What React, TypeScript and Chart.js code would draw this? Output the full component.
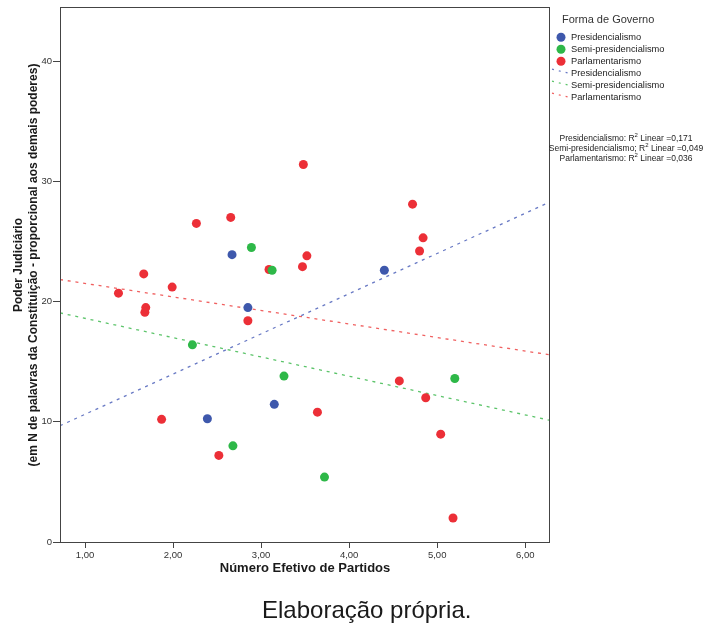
import { useEffect, useRef } from "react";
import { Chart, registerables } from "chart.js";
Chart.register(...registerables);

const xTicks = [1, 2, 3, 4, 5, 6];
const yTicks = [0, 10, 20, 30, 40];
const xRange = [0.716, 6.27];
const yRange = [0, 44.5];

const seriesNames = ["Presidencialismo", "Semi-presidencialismo", "Parlamentarismo"];
const r2Values = ["0,171", "0,049", "0,036"];

const presX = [2.67, 2.85, 4.4, 3.15, 2.39];
const presY = [23.9, 19.5, 22.6, 11.45, 10.25];

const semiX = [2.89, 3.125, 2.22, 3.26, 5.2, 2.68, 3.72];
const semiY = [24.5, 22.6, 16.4, 13.8, 13.6, 8.0, 5.4];

const parlX = [3.48, 2.265, 2.655, 3.52, 3.09, 3.47, 1.667, 1.99, 1.38, 1.69, 1.68, 2.85, 4.72, 4.84, 4.8, 4.57, 4.87, 3.64, 1.87, 5.04, 2.52, 5.18];
const parlY = [31.4, 26.5, 27.0, 23.8, 22.67, 22.9, 22.3, 21.2, 20.7, 19.5, 19.1, 18.4, 28.1, 25.3, 24.2, 13.4, 12.0, 10.8, 10.2, 8.97, 7.2, 2.0];

// fit line values at the left and right edges of the x range
const presFit = [9.67, 28.25];
const semiFit = [19.06, 10.14];
const parlFit = [21.83, 15.58];

const pointColors = ["#3e58ac", "#2eb848", "#ec2f37"];
const lineColors = ["#6879c4", "#5cc46a", "#f06060"];

const FONT = "'Liberation Sans', Arial, sans-serif";

const pts = (xs: number[], ys: number[]) => xs.map((x, i) => ({ x, y: ys[i] }));
const fit = (v: number[]) => [{ x: xRange[0], y: v[0] }, { x: xRange[1], y: v[1] }];

const decor = {
  id: "decor",
  afterDraw(chart: any) {
    const ctx = chart.ctx as CanvasRenderingContext2D;
    const a = chart.chartArea;
    ctx.save();
    // frame
    ctx.strokeStyle = "#444";
    ctx.lineWidth = 1;
    ctx.setLineDash([]);
    ctx.strokeRect(Math.round(a.left) + 0.5, Math.round(a.top) + 0.5, Math.round(a.right - a.left), Math.round(a.bottom - a.top));

    // legend
    ctx.fillStyle = "#333";
    ctx.textBaseline = "middle";
    ctx.textAlign = "left";
    ctx.font = `11px ${FONT}`;
    ctx.fillText("Forma de Governo", 562, 20);
    ctx.font = `9.3px ${FONT}`;
    const rowY = [37.3, 49.3, 61.3, 72.7, 84.7, 96.7];
    for (let i = 0; i < 3; i++) {
      ctx.fillStyle = pointColors[i];
      ctx.beginPath();
      ctx.arc(561, rowY[i], 4.5, 0, Math.PI * 2);
      ctx.fill();
      ctx.fillStyle = "#222";
      ctx.fillText(seriesNames[i], 571, rowY[i] + 0.5);
    }
    for (let i = 0; i < 3; i++) {
      const y = rowY[i + 3];
      ctx.strokeStyle = lineColors[i];
      ctx.lineWidth = 1.2;
      ctx.setLineDash([2, 5]);
      ctx.beginPath();
      ctx.moveTo(552, y - 3.5);
      ctx.lineTo(570, y + 0.8);
      ctx.stroke();
      ctx.setLineDash([]);
      ctx.fillStyle = "#222";
      ctx.fillText(seriesNames[i], 571, y + 0.5);
    }

    // R2 annotations
    const r2Y = [138.5, 148.5, 158.5];
    for (let i = 0; i < 3; i++) {
      const pre = `${seriesNames[i]}${i === 1 ? ";" : ":"} R`;
      const post = ` Linear =${r2Values[i]}`;
      ctx.font = `8.5px ${FONT}`;
      const w1 = ctx.measureText(pre).width;
      const w3 = ctx.measureText(post).width;
      ctx.font = `6px ${FONT}`;
      const w2 = ctx.measureText("2").width;
      const total = w1 + w2 + w3;
      let x = 626 - total / 2;
      ctx.fillStyle = "#222";
      ctx.font = `8.5px ${FONT}`;
      ctx.fillText(pre, x, r2Y[i]);
      x += w1;
      ctx.font = `6px ${FONT}`;
      ctx.fillText("2", x, r2Y[i] - 3.2);
      x += w2;
      ctx.font = `8.5px ${FONT}`;
      ctx.fillText(post, x, r2Y[i]);
    }

    // axis titles
    ctx.fillStyle = "#1a1a1a";
    ctx.textAlign = "center";
    ctx.textBaseline = "alphabetic";
    ctx.font = `bold 13px ${FONT}`;
    ctx.fillText("Número Efetivo de Partidos", 305, 572);

    ctx.save();
    ctx.translate(0, 265);
    ctx.rotate(-Math.PI / 2);
    ctx.font = `bold 12px ${FONT}`;
    ctx.textBaseline = "middle";
    ctx.fillText("Poder Judiciário", 0, 18.8);
    ctx.fillText("(em N de palavras da Constituição - proporcional aos demais poderes)", 0, 33.4);
    ctx.restore();

    // caption
    ctx.textAlign = "left";
    ctx.textBaseline = "alphabetic";
    ctx.fillStyle = "#1a1a1a";
    ctx.font = `24px ${FONT}`;
    ctx.fillText("Elaboração própria.", 262, 618);
    ctx.restore();
  },
};

export default function App() {
  const ref = useRef<HTMLCanvasElement>(null);
  useEffect(() => {
    if (!ref.current) return;
    const fitDs = (v: number[], i: number) => ({
      type: "line" as const,
      data: fit(v),
      borderColor: lineColors[i],
      borderWidth: 1.3,
      borderDash: [3, 4.8],
      pointRadius: 0,
      showLine: true,
      fill: false,
      order: 2,
    });
    const ptDs = (xs: number[], ys: number[], i: number) => ({
      type: "scatter" as const,
      label: seriesNames[i],
      data: pts(xs, ys),
      backgroundColor: pointColors[i],
      borderColor: pointColors[i],
      borderWidth: 0,
      pointRadius: 4.5,
      order: 1,
    });
    const chart = new Chart(ref.current, {
      type: "scatter",
      data: {
        datasets: [
          fitDs(presFit, 0),
          fitDs(semiFit, 1),
          fitDs(parlFit, 2),
          ptDs(presX, presY, 0),
          ptDs(semiX, semiY, 1),
          ptDs(parlX, parlY, 2),
        ] as any,
      },
      options: {
        animation: false,
        responsive: false,
        layout: { padding: { top: 7, right: 173, left: 0, bottom: 0 } },
        plugins: { legend: { display: false }, tooltip: { enabled: false }, title: { display: false } },
        scales: {
          x: {
            type: "linear",
            min: xRange[0],
            max: xRange[1],
            afterBuildTicks: (s: any) => {
              s.ticks = xTicks.map((v) => ({ value: v }));
            },
            afterFit: (s: any) => {
              s.height = 81;
            },
            border: { display: false },
            grid: { drawOnChartArea: false, drawTicks: true, tickLength: 6, color: "#444" },
            ticks: {
              padding: 2,
              color: "#333",
              font: { family: FONT, size: 9.5 },
              callback: (v: any) => Number(v).toFixed(2).replace(".", ","),
            },
          },
          y: {
            type: "linear",
            min: yRange[0],
            max: yRange[1],
            afterBuildTicks: (s: any) => {
              s.ticks = yTicks.map((v) => ({ value: v }));
            },
            afterFit: (s: any) => {
              s.width = 60;
            },
            border: { display: false },
            grid: { drawOnChartArea: false, drawTicks: true, tickLength: 7, color: "#444" },
            ticks: {
              padding: 1,
              color: "#333",
              font: { family: FONT, size: 9.5 },
              callback: (v: any) => String(v),
            },
          },
        },
      },
      plugins: [decor],
    });
    return () => chart.destroy();
  }, []);
  return (
    <div style={{ position: "absolute", left: 0, top: 0, width: 722, height: 623, background: "#fff" }}>
      <canvas ref={ref} width={722} height={623} style={{ width: 722, height: 623, display: "block" }} />
    </div>
  );
}
